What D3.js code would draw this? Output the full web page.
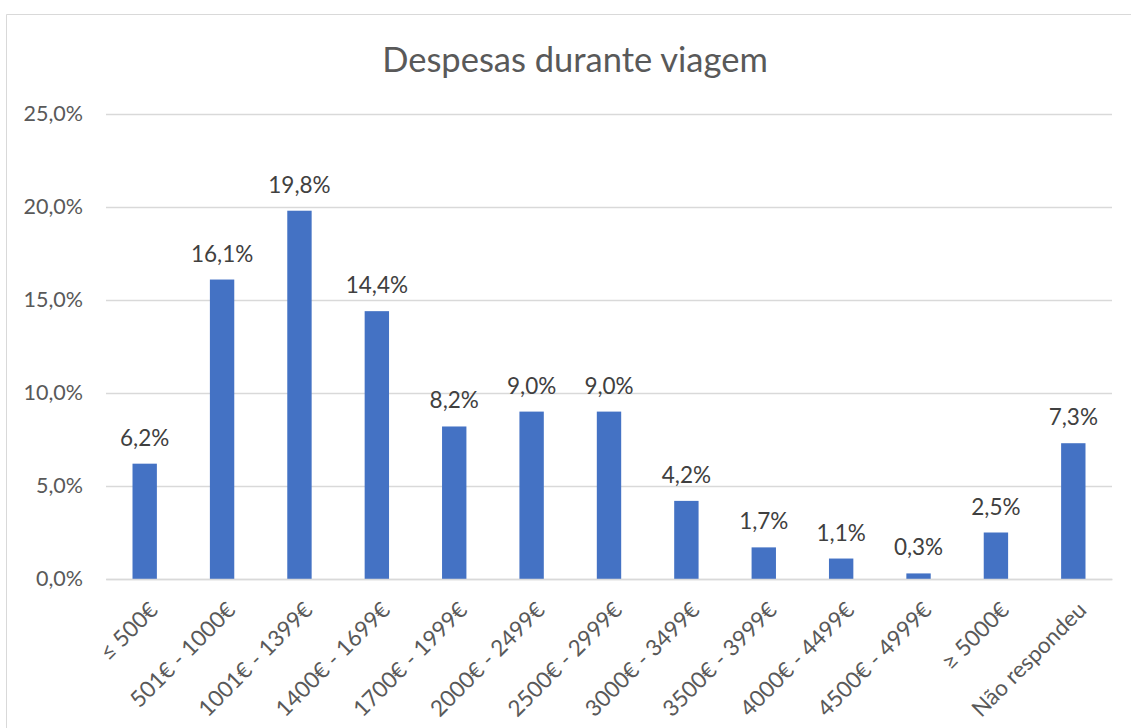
<!DOCTYPE html>
<html>
<head>
<meta charset="utf-8">
<script src="https://cdn.jsdelivr.net/npm/d3@7"></script>
<style>
  html, body { margin: 0; padding: 0; background: #fff; }
  svg { display: block; }
  text { font-family: Lato, "Open Sans", sans-serif; }
</style>
</head>
<body>
<svg id="chart" width="1131" height="728"></svg>
<script>
const categories = ["≤ 500€", "501€ - 1000€", "1001€ - 1399€", "1400€ - 1699€", "1700€ - 1999€",
  "2000€ - 2499€", "2500€ - 2999€", "3000€ - 3499€", "3500€ - 3999€", "4000€ - 4499€",
  "4500€ - 4999€", "≥ 5000€", "Não respondeu"];
const values = [6.2, 16.1, 19.8, 14.4, 8.2, 9.0, 9.0, 4.2, 1.7, 1.1, 0.3, 2.5, 7.3];
const yTicks = [0, 5, 10, 15, 20, 25];
const title = "Despesas durante viagem";

const W = 1131, H = 728;
const margin = {left: 106, right: 19, top: 114, bottom: 149};
const svg = d3.select("#chart");
const fmt = v => v.toFixed(1).replace(".", ",") + "%";

// chart border (top and left visible)
svg.append("path")
  .attr("d", `M6.5,${H} L6.5,14.5 L${W},14.5`)
  .attr("fill", "none").attr("stroke", "#d9d9d9").attr("stroke-width", 1);

const x = d3.scaleBand().domain(categories)
  .range([margin.left, W - margin.right]).paddingInner(0.685).paddingOuter(0.3425);
const y = d3.scaleLinear().domain([0, 25]).range([H - margin.bottom, margin.top]);

// gridlines
const yAxis = d3.axisLeft(y).tickValues(yTicks).tickFormat(fmt)
  .tickSize(-(W - margin.right - margin.left)).tickPadding(23);
const gy = svg.append("g").attr("transform", `translate(${margin.left},0)`).call(yAxis);
gy.select(".domain").remove();
gy.selectAll(".tick line").attr("stroke", "#d9d9d9").attr("stroke-width", 1.3);
gy.selectAll(".tick text").attr("fill", "#595959").attr("font-size", 21.5);

// bars
svg.append("g").selectAll("rect").data(values).join("rect")
  .attr("x", (d, i) => x(categories[i]))
  .attr("width", x.bandwidth())
  .attr("y", d => y(d))
  .attr("height", d => y(0) - y(d))
  .attr("fill", "#4472c4");

// x axis line
const xAxis = d3.axisBottom(x).tickSize(0).tickPadding(0);
const gx = svg.append("g").attr("transform", `translate(0,${y(0)})`).call(xAxis);
gx.select(".domain").attr("stroke", "#d9d9d9").attr("stroke-width", 1.3);
gx.selectAll(".tick text")
  .attr("fill", "#595959").attr("font-size", 22.5)
  .attr("text-anchor", "end")
  .attr("transform", "translate(9,27) rotate(-45)")
  .attr("dy", "0.35em");

// data labels
svg.append("g").selectAll("text").data(values).join("text")
  .attr("x", (d, i) => x(categories[i]) + x.bandwidth() / 2)
  .attr("y", d => y(d) - 18)
  .attr("text-anchor", "middle")
  .attr("fill", "#404040").attr("font-size", 22.5)
  .text(fmt);

// title
svg.append("text").attr("x", 575).attr("y", 72).attr("text-anchor", "middle")
  .attr("fill", "#595959").attr("font-size", 34.5).text(title);
</script>
</body>
</html>
